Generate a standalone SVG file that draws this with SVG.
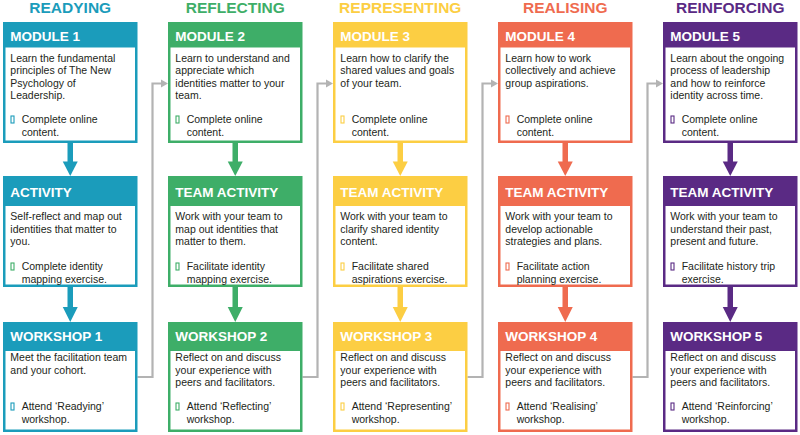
<svg xmlns="http://www.w3.org/2000/svg" width="800" height="435" viewBox="0 0 800 435">
<defs>
<style>
.t{font-family:"Liberation Sans",Arial,Helvetica,sans-serif;font-size:15.5px;font-weight:bold;text-anchor:middle}
.h{font-family:"Liberation Sans",Arial,Helvetica,sans-serif;font-size:13.5px;font-weight:bold;fill:#fff}
.b{font-family:"Liberation Sans",Arial,Helvetica,sans-serif;font-size:10.5px;fill:#231f20}
.w{fill:#fff}
.g{fill:none;stroke:#b3b3b3;stroke-width:2.2}
.ga{fill:#b3b3b3}
.bl{fill:none;stroke-width:1.1}
.c1{fill:#1b9cbb}.s1{stroke:#1b9cbb}
.c2{fill:#3eae68}.s2{stroke:#3eae68}
.c3{fill:#fcce43}.s3{stroke:#fcce43}
.c4{fill:#ef6b4f}.s4{stroke:#ef6b4f}
.c5{fill:#5a2a84}.s5{stroke:#5a2a84}
</style>
</defs>

<!-- Titles -->
<g id="titles">
<text class="t c1" x="70.25" y="13">READYING</text>
<text class="t c2" x="235.25" y="13">REFLECTING</text>
<text class="t c3" x="400.25" y="13">REPRESENTING</text>
<text class="t c4" x="565.25" y="13">REALISING</text>
<text class="t c5" x="730.25" y="13">REINFORCING</text>
</g>

<!-- Connectors -->
<g id="connectors">
<!-- colored vertical arrows -->
<rect class="c1" x="67.5" y="142" width="5.5" height="21"/><polygon class="c1" points="62.75,161.5 77.75,161.5 70.25,176"/>
<rect class="c1" x="67.5" y="286" width="5.5" height="22"/><polygon class="c1" points="62.75,307 77.75,307 70.25,322"/>
<rect class="c2" x="232.5" y="142" width="5.5" height="21"/><polygon class="c2" points="227.75,161.5 242.75,161.5 235.25,176"/>
<rect class="c2" x="232.5" y="286" width="5.5" height="22"/><polygon class="c2" points="227.75,307 242.75,307 235.25,322"/>
<rect class="c3" x="397.5" y="142" width="5.5" height="21"/><polygon class="c3" points="392.75,161.5 407.75,161.5 400.25,176"/>
<rect class="c3" x="397.5" y="286" width="5.5" height="22"/><polygon class="c3" points="392.75,307 407.75,307 400.25,322"/>
<rect class="c4" x="562.5" y="142" width="5.5" height="21"/><polygon class="c4" points="557.75,161.5 572.75,161.5 565.25,176"/>
<rect class="c4" x="562.5" y="286" width="5.5" height="22"/><polygon class="c4" points="557.75,307 572.75,307 565.25,322"/>
<rect class="c5" x="727.5" y="142" width="5.5" height="21"/><polygon class="c5" points="722.75,161.5 737.75,161.5 730.25,176"/>
<rect class="c5" x="727.5" y="286" width="5.5" height="22"/><polygon class="c5" points="722.75,307 737.75,307 730.25,322"/>
<!-- grey connectors -->
<path class="g" d="M137.5,377 H152.5 V83.5 H162"/><polygon class="ga" points="161,79.5 168,83.5 161,87.5"/>
<path class="g" d="M302.5,377 H317.5 V83.5 H327"/><polygon class="ga" points="326,79.5 333,83.5 326,87.5"/>
<path class="g" d="M467.5,377 H482.5 V83.5 H492"/><polygon class="ga" points="491,79.5 498,83.5 491,87.5"/>
<path class="g" d="M632.5,377 H647.5 V83.5 H657"/><polygon class="ga" points="656,79.5 663,83.5 656,87.5"/>
</g>

<!-- Column 1 -->
<g id="module1">
<rect class="c1" x="3" y="22" width="134.5" height="121"/>
<rect class="w" x="5.5" y="47.5" width="129.5" height="93"/>
<text class="h" x="10.3" y="41">MODULE 1</text>
<text class="b" x="10.3" y="61.5">Learn the fundamental</text>
<text class="b" x="10.3" y="74">principles of The New</text>
<text class="b" x="10.3" y="86.5">Psychology of</text>
<text class="b" x="10.3" y="99">Leadership.</text>
<rect class="bl s1" x="11" y="116" width="3" height="7"/>
<text class="b" x="21.7" y="123">Complete online</text>
<text class="b" x="21.7" y="135.5">content.</text>
</g>
<g id="activity1">
<rect class="c1" x="3" y="176" width="134.5" height="111"/>
<rect class="w" x="5.5" y="206" width="129.5" height="78.5"/>
<text class="h" x="10.3" y="196.5">ACTIVITY</text>
<text class="b" x="10.3" y="220">Self-reflect and map out</text>
<text class="b" x="10.3" y="232.5">identities that matter to</text>
<text class="b" x="10.3" y="245">you.</text>
<rect class="bl s2" x="11" y="263" width="3" height="7"/>
<text class="b" x="21.7" y="270">Complete identity</text>
<text class="b" x="21.7" y="282.5">mapping exercise.</text>
</g>
<g id="workshop1">
<rect class="c1" x="3" y="322" width="134.5" height="110"/>
<rect class="w" x="5.5" y="351" width="129.5" height="78.5"/>
<text class="h" x="10.3" y="341">WORKSHOP 1</text>
<text class="b" x="10.3" y="361">Meet the facilitation team</text>
<text class="b" x="10.3" y="373.5">and your cohort.</text>
<rect class="bl s1" x="11" y="403" width="3" height="7"/>
<text class="b" x="21.7" y="410">Attend ‘Readying’</text>
<text class="b" x="21.7" y="422.5">workshop.</text>
</g>

<!-- Column 2 -->
<g id="module2">
<rect class="c2" x="168" y="22" width="134.5" height="121"/>
<rect class="w" x="170.5" y="47.5" width="129.5" height="93"/>
<text class="h" x="175.3" y="41">MODULE 2</text>
<text class="b" x="175.3" y="61.5">Learn to understand and</text>
<text class="b" x="175.3" y="74">appreciate which</text>
<text class="b" x="175.3" y="86.5">identities matter to your</text>
<text class="b" x="175.3" y="99">team.</text>
<rect class="bl s2" x="176" y="116" width="3" height="7"/>
<text class="b" x="186.7" y="123">Complete online</text>
<text class="b" x="186.7" y="135.5">content.</text>
</g>
<g id="activity2">
<rect class="c2" x="168" y="176" width="134.5" height="111"/>
<rect class="w" x="170.5" y="206" width="129.5" height="78.5"/>
<text class="h" x="175.3" y="196.5">TEAM ACTIVITY</text>
<text class="b" x="175.3" y="220">Work with your team to</text>
<text class="b" x="175.3" y="232.5">map out identities that</text>
<text class="b" x="175.3" y="245">matter to them.</text>
<rect class="bl s2" x="176" y="263" width="3" height="7"/>
<text class="b" x="186.7" y="270">Facilitate identity</text>
<text class="b" x="186.7" y="282.5">mapping exercise.</text>
</g>
<g id="workshop2">
<rect class="c2" x="168" y="322" width="134.5" height="110"/>
<rect class="w" x="170.5" y="351" width="129.5" height="78.5"/>
<text class="h" x="175.3" y="341">WORKSHOP 2</text>
<text class="b" x="175.3" y="361">Reflect on and discuss</text>
<text class="b" x="175.3" y="373.5">your experience with</text>
<text class="b" x="175.3" y="386">peers and facilitators.</text>
<rect class="bl s2" x="176" y="403" width="3" height="7"/>
<text class="b" x="186.7" y="410">Attend ‘Reflecting’</text>
<text class="b" x="186.7" y="422.5">workshop.</text>
</g>

<!-- Column 3 -->
<g id="module3">
<rect class="c3" x="333" y="22" width="134.5" height="121"/>
<rect class="w" x="335.5" y="47.5" width="129.5" height="93"/>
<text class="h" x="340.3" y="41">MODULE 3</text>
<text class="b" x="340.3" y="61.5">Learn how to clarify the</text>
<text class="b" x="340.3" y="74">shared values and goals</text>
<text class="b" x="340.3" y="86.5">of your team.</text>
<rect class="bl s3" x="341" y="116" width="3" height="7"/>
<text class="b" x="351.7" y="123">Complete online</text>
<text class="b" x="351.7" y="135.5">content.</text>
</g>
<g id="activity3">
<rect class="c3" x="333" y="176" width="134.5" height="111"/>
<rect class="w" x="335.5" y="206" width="129.5" height="78.5"/>
<text class="h" x="340.3" y="196.5">TEAM ACTIVITY</text>
<text class="b" x="340.3" y="220">Work with your team to</text>
<text class="b" x="340.3" y="232.5">clarify shared identity</text>
<text class="b" x="340.3" y="245">content.</text>
<rect class="bl s3" x="341" y="263" width="3" height="7"/>
<text class="b" x="351.7" y="270">Facilitate shared</text>
<text class="b" x="351.7" y="282.5">aspirations exercise.</text>
</g>
<g id="workshop3">
<rect class="c3" x="333" y="322" width="134.5" height="110"/>
<rect class="w" x="335.5" y="351" width="129.5" height="78.5"/>
<text class="h" x="340.3" y="341">WORKSHOP 3</text>
<text class="b" x="340.3" y="361">Reflect on and discuss</text>
<text class="b" x="340.3" y="373.5">your experience with</text>
<text class="b" x="340.3" y="386">peers and facilitators.</text>
<rect class="bl s3" x="341" y="403" width="3" height="7"/>
<text class="b" x="351.7" y="410">Attend ‘Representing’</text>
<text class="b" x="351.7" y="422.5">workshop.</text>
</g>

<!-- Column 4 -->
<g id="module4">
<rect class="c4" x="498" y="22" width="134.5" height="121"/>
<rect class="w" x="500.5" y="47.5" width="129.5" height="93"/>
<text class="h" x="505.3" y="41">MODULE 4</text>
<text class="b" x="505.3" y="61.5">Learn how to work</text>
<text class="b" x="505.3" y="74">collectively and achieve</text>
<text class="b" x="505.3" y="86.5">group aspirations.</text>
<rect class="bl s4" x="506" y="116" width="3" height="7"/>
<text class="b" x="516.7" y="123">Complete online</text>
<text class="b" x="516.7" y="135.5">content.</text>
</g>
<g id="activity4">
<rect class="c4" x="498" y="176" width="134.5" height="111"/>
<rect class="w" x="500.5" y="206" width="129.5" height="78.5"/>
<text class="h" x="505.3" y="196.5">TEAM ACTIVITY</text>
<text class="b" x="505.3" y="220">Work with your team to</text>
<text class="b" x="505.3" y="232.5">develop actionable</text>
<text class="b" x="505.3" y="245">strategies and plans.</text>
<rect class="bl s4" x="506" y="263" width="3" height="7"/>
<text class="b" x="516.7" y="270">Facilitate action</text>
<text class="b" x="516.7" y="282.5">planning exercise.</text>
</g>
<g id="workshop4">
<rect class="c4" x="498" y="322" width="134.5" height="110"/>
<rect class="w" x="500.5" y="351" width="129.5" height="78.5"/>
<text class="h" x="505.3" y="341">WORKSHOP 4</text>
<text class="b" x="505.3" y="361">Reflect on and discuss</text>
<text class="b" x="505.3" y="373.5">your experience with</text>
<text class="b" x="505.3" y="386">peers and facilitators.</text>
<rect class="bl s4" x="506" y="403" width="3" height="7"/>
<text class="b" x="516.7" y="410">Attend ‘Realising’</text>
<text class="b" x="516.7" y="422.5">workshop.</text>
</g>

<!-- Column 5 -->
<g id="module5">
<rect class="c5" x="663" y="22" width="134.5" height="121"/>
<rect class="w" x="665.5" y="47.5" width="129.5" height="93"/>
<text class="h" x="670.3" y="41">MODULE 5</text>
<text class="b" x="670.3" y="61.5">Learn about the ongoing</text>
<text class="b" x="670.3" y="74">process of leadership</text>
<text class="b" x="670.3" y="86.5">and how to reinforce</text>
<text class="b" x="670.3" y="99">identity across time.</text>
<rect class="bl s5" x="671" y="116" width="3" height="7"/>
<text class="b" x="681.7" y="123">Complete online</text>
<text class="b" x="681.7" y="135.5">content.</text>
</g>
<g id="activity5">
<rect class="c5" x="663" y="176" width="134.5" height="111"/>
<rect class="w" x="665.5" y="206" width="129.5" height="78.5"/>
<text class="h" x="670.3" y="196.5">TEAM ACTIVITY</text>
<text class="b" x="670.3" y="220">Work with your team to</text>
<text class="b" x="670.3" y="232.5">understand their past,</text>
<text class="b" x="670.3" y="245">present and future.</text>
<rect class="bl s5" x="671" y="263" width="3" height="7"/>
<text class="b" x="681.7" y="270">Facilitate history trip</text>
<text class="b" x="681.7" y="282.5">exercise.</text>
</g>
<g id="workshop5">
<rect class="c5" x="663" y="322" width="134.5" height="110"/>
<rect class="w" x="665.5" y="351" width="129.5" height="78.5"/>
<text class="h" x="670.3" y="341">WORKSHOP 5</text>
<text class="b" x="670.3" y="361">Reflect on and discuss</text>
<text class="b" x="670.3" y="373.5">your experience with</text>
<text class="b" x="670.3" y="386">peers and facilitators.</text>
<rect class="bl s5" x="671" y="403" width="3" height="7"/>
<text class="b" x="681.7" y="410">Attend ‘Reinforcing’</text>
<text class="b" x="681.7" y="422.5">workshop.</text>
</g>
</svg>
